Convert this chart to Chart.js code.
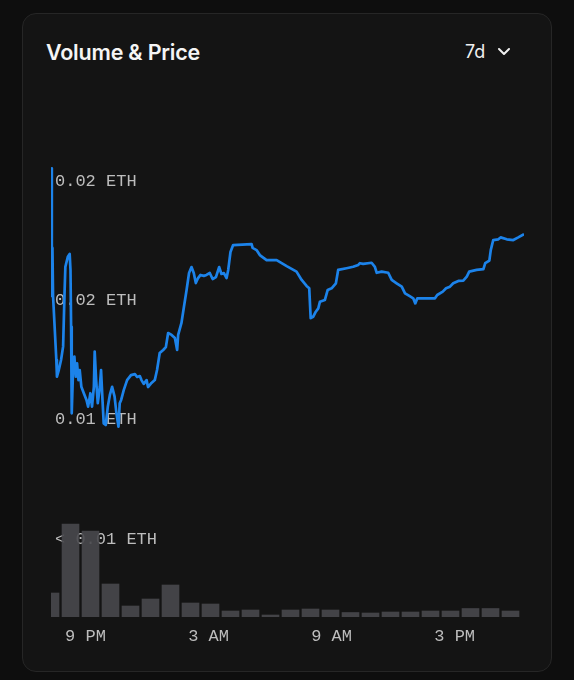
<!DOCTYPE html>
<html>
<head>
<meta charset="utf-8">
<script src="https://cdn.jsdelivr.net/npm/chart.js@4.4.1/dist/chart.umd.min.js"></script>
<style>
  html, body { margin: 0; padding: 0; background: #0e0e0e; }
  body { width: 574px; height: 680px; position: relative; overflow: hidden; }
  .card {
    position: absolute; left: 22px; top: 13px; width: 528px; height: 657px;
    background: #141414; border: 1px solid #262626; border-radius: 14px;
  }
  .title {
    position: absolute; left: 23px; top: 25px;
    font: 600 21.5px Inter, "Noto Sans", sans-serif; color: #f5f5f5; letter-spacing: -0.2px;
  }
  .range {
    position: absolute; left: 442px; top: 27px;
    font: 400 18px Inter, "Noto Sans", sans-serif; color: #f0f0f0;
  }
  .range svg { position: absolute; left: 32px; top: 6px; }
  #chart { position: absolute; left: 22px; top: 140px; }
</style>
</head>
<body>
<div class="card">
  <div class="title">Volume &amp; Price</div>
  <div class="range">7d<svg width="14" height="10" viewBox="0 0 14 10"><polyline points="2,2 7,7 12,2" fill="none" stroke="#f0f0f0" stroke-width="2" stroke-linecap="round" stroke-linejoin="round"/></svg></div>
</div>
<canvas id="chart" width="530" height="530"></canvas>
<script>
// price line: hours relative to 9 PM, price in ETH
const priceHours = [
  -1.68, -1.64, -1.61, -1.58, -1.42, -1.39, -1.30, -1.19, -1.09, -1.02, -0.98, -0.86, -0.77, -0.73,
  -0.70, -0.67, -0.61, -0.54, -0.47, -0.41, -0.34, -0.28, -0.20, -0.08, 0.05, 0.13, 0.24, 0.32,
  0.41, 0.45, 0.52, 0.60, 0.70, 0.76, 0.83, 0.89, 0.99, 1.09, 1.19, 1.30, 1.42, 1.51, 1.61, 1.67,
  1.74, 1.87, 2.03, 2.22, 2.41, 2.52, 2.65, 2.73, 2.84, 2.98, 3.05, 3.22, 3.38, 3.49, 3.62, 3.79,
  3.92, 4.03, 4.20, 4.36, 4.47, 4.52, 4.68, 4.80, 4.93, 5.05, 5.17, 5.28, 5.38, 5.49, 5.61, 5.77,
  5.90, 6.06, 6.20, 6.36, 6.52, 6.63, 6.75, 6.88, 6.96, 7.07, 7.20, 8.10, 8.15, 8.34, 8.50, 8.83,
  9.32, 9.81, 10.29, 10.54, 10.78, 10.91, 10.98, 11.10, 11.23, 11.35, 11.43, 11.67, 11.81, 12.00,
  12.21, 12.32, 12.73, 13.05, 13.30, 13.38, 13.54, 13.95, 14.11, 14.20, 14.44, 14.76, 14.93, 15.17,
  15.42, 15.58, 15.79, 15.98, 16.08, 16.18, 16.63, 17.04, 17.15, 17.42, 17.58, 17.77, 17.93, 18.18,
  18.42, 18.59, 18.71, 19.07, 19.40, 19.49, 19.69, 19.76, 19.88, 20.13, 20.24, 20.54, 20.86, 21.10,
  21.38
];
const priceValues = [
  0.02053, 0.01519, 0.01720, 0.01519, 0.01251, 0.01181, 0.01209, 0.01251, 0.01307, 0.01531, 0.01641, 0.01683, 0.01695, 0.01628,
  0.01390, 0.01028, 0.01195, 0.01265, 0.01181, 0.01237, 0.01167, 0.01209, 0.01139, 0.01112, 0.01084, 0.01056, 0.01112, 0.01056,
  0.01139, 0.01286, 0.01167, 0.01070, 0.01139, 0.01209, 0.01084, 0.00986, 0.00979, 0.01056, 0.01105, 0.01139, 0.01098, 0.01028, 0.00972, 0.01070,
  0.01084, 0.01126, 0.01167, 0.01188, 0.01192, 0.01180, 0.01184, 0.01167, 0.01151, 0.01167, 0.01138, 0.01155, 0.01167, 0.01209, 0.01280, 0.01293,
  0.01305, 0.01364, 0.01356, 0.01343, 0.01293, 0.01356, 0.01406, 0.01473, 0.01544, 0.01615, 0.01640, 0.01615, 0.01573, 0.01594, 0.01607, 0.01603,
  0.01607, 0.01615, 0.01590, 0.01598, 0.01640, 0.01611, 0.01615, 0.01594, 0.01628, 0.01703, 0.01732, 0.01736, 0.01720, 0.01711, 0.01690, 0.01669,
  0.01669, 0.01644, 0.01621, 0.01586, 0.01561, 0.01551, 0.01426, 0.01432, 0.01453, 0.01467, 0.01495, 0.01502, 0.01544, 0.01551,
  0.01572, 0.01628, 0.01635, 0.01641, 0.01649, 0.01656, 0.01653, 0.01658, 0.01641, 0.01616, 0.01621, 0.01616, 0.01586, 0.01572,
  0.01558, 0.01530, 0.01519, 0.01509, 0.01488, 0.01509, 0.01509, 0.01509, 0.01523, 0.01537, 0.01551, 0.01558, 0.01572, 0.01582,
  0.01583, 0.01600, 0.01621, 0.01628, 0.01631, 0.01656, 0.01667, 0.01711, 0.01753, 0.01756, 0.01764, 0.01756, 0.01753, 0.01764,
  0.01778
];

// hourly volume bars (ETH, relative)
const volumeValues = [2.4, 9.3, 8.6, 3.3, 1.1, 1.8, 3.2, 1.4, 1.3, 0.6, 0.7, 0.2,
                      0.7, 0.8, 0.7, 0.45, 0.4, 0.5, 0.5, 0.6, 0.6, 0.85, 0.85, 0.6];

const priceTicks = [0.02, 0.015, 0.01, 0.005];
const priceTickLabels = ['0.02 ETH', '0.02 ETH', '0.01 ETH', '< 0.01 ETH'];
const timeTicks = [0, 6, 12, 18];
const timeTickLabels = ['9 PM', '3 AM', '9 AM', '3 PM'];

const tickFont = { family: '"Liberation Mono", "DejaVu Sans Mono", monospace', size: 17 };

new Chart(document.getElementById('chart'), {
  type: 'line',
  data: {
    datasets: [
      {
        type: 'line',
        data: priceHours.map((h, i) => ({ x: h, y: priceValues[i] })),
        xAxisID: 'x', yAxisID: 'y',
        borderColor: '#1c83ea', borderWidth: 2.7, borderJoinStyle: 'round',
        pointRadius: 0, tension: 0, order: 1
      },
      {
        type: 'bar',
        data: volumeValues.map((v, i) => ({ x: i, y: v })),
        xAxisID: 'xb', yAxisID: 'yv',
        backgroundColor: 'rgba(72, 72, 76, 0.9)',
        barThickness: 17, grouped: false, order: 2
      }
    ]
  },
  options: {
    responsive: false,
    animation: false,
    devicePixelRatio: 1,
    layout: { padding: { left: 29, right: 28, top: 20, bottom: 0 } },
    plugins: { legend: { display: false }, tooltip: { enabled: false } },
    scales: {
      x: {
        type: 'linear', position: 'bottom', min: -1.68, max: 21.38,
        grid: { display: false, drawTicks: false }, border: { display: false },
        afterFit: s => { s.height = 53; },
        afterBuildTicks: s => { s.ticks = timeTicks.map(v => ({ value: v })); },
        ticks: {
          padding: 9, color: '#bdbdbd', font: tickFont, maxRotation: 0, autoSkip: false,
          callback: (v, i) => timeTickLabels[i]
        }
      },
      xb: { type: 'linear', display: false, offset: false, min: 0.025, max: 23.675 },
      y: {
        position: 'left', min: 0.001757, max: 0.020879,
        grid: { display: false, drawTicks: false }, border: { display: false },
        afterFit: s => { s.width = 0; },
        afterBuildTicks: s => { s.ticks = priceTicks.map(v => ({ value: v })); },
        ticks: {
          mirror: true, padding: 4, color: '#bdbdbd', font: tickFont, autoSkip: false,
          callback: (v, i) => priceTickLabels[i]
        }
      },
      yv: { display: false, min: 0, max: 45.7 }
    }
  }
});
</script>
</body>
</html>
